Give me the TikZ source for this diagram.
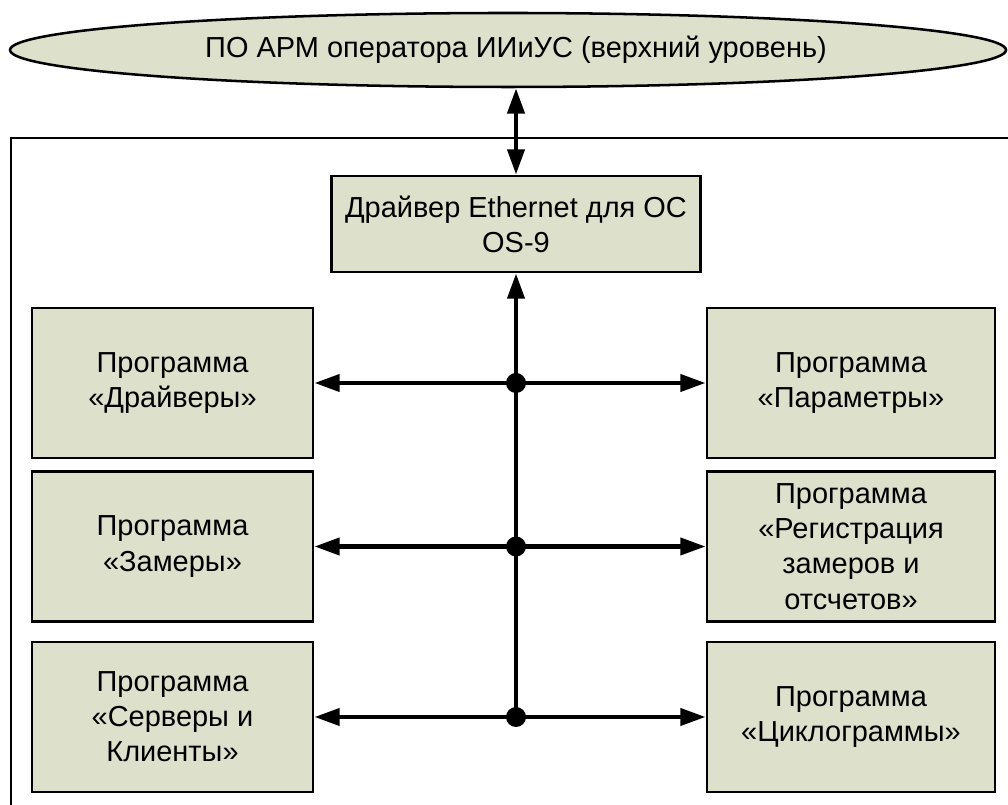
\documentclass[tikz,border=0pt]{standalone}
\usepackage{fontspec}
\setmainfont{Liberation Sans}
\usepackage{tikz}
\usetikzlibrary{positioning}
\usetikzlibrary{shapes,calc,arrows.meta}

\definecolor{boxfill}{RGB}{221,224,203}
\tikzset{
  every node/.style={font=\fontsize{20.6pt}{25pt}\selectfont},
  prog/.style={draw, line width=2pt, fill=boxfill, align=center,
    minimum height=3.75cm, inner sep=2pt},
  link/.style={line width=3.2pt,
    {Triangle[length=18pt,width=12pt]}-{Triangle[length=18pt,width=12pt]}},
  busline/.style={line width=3.2pt, -{Triangle[length=18pt,width=12pt]}},
}

\begin{document}
\begin{tikzpicture}
  \useasboundingbox (0,0) rectangle (25.2,20.125);

  % Top level: operator workstation
  \node[ellipse, draw, line width=1.8pt, fill=boxfill, inner sep=0pt,
    minimum width=24.9cm, minimum height=1.85cm] (apm) at (12.7,18.875)
    {\hspace*{0.4cm}ПО АРМ оператора ИИиУС (верхний уровень)};

  % Outer frame (cut at the right and bottom)
  \draw[line width=1.4pt] (0.275,0) -- (0.275,16.675) -- (25.2,16.675);

  % Ethernet driver
  \node[prog, minimum width=9.225cm, minimum height=2.4cm] (eth) at (12.9,14.525)
    {Драйвер Ethernet для ОС\\OS-9};

  % Programs on the left
  \node[prog, minimum width=7.025cm] (drv) at (4.3125,10.55) {Программа\\«Драйверы»};
  \node[prog, minimum width=7.025cm] (zam) at (4.3125,6.4625) {Программа\\«Замеры»};
  \node[prog, minimum width=7.025cm] (srv) at (4.3125,2.2) {Программа\\«Серверы и\\Клиенты»};

  % Programs on the right
  \node[prog, minimum width=7.2cm] (par) at (21.275,10.55) {Программа\\«Параметры»};
  \node[prog, minimum width=7.2cm] (reg) at (21.275,6.4625)
    {Программа\\«Регистрация\\замеров и\\отсчетов»};
  \node[prog, minimum width=7.2cm] (cyc) at (21.275,2.2) {Программа\\«Циклограммы»};

  % Bus junctions
  \coordinate (j1) at (eth.south |- drv.east);
  \coordinate (j2) at (eth.south |- zam.east);
  \coordinate (j3) at (eth.south |- srv.east);

  % Links
  \draw[link] (apm.south -| eth.north) -- (eth.north);
  \draw[busline] (j3) -- (eth.south);
  \foreach \l/\r/\j in {drv/par/j1, zam/reg/j2, srv/cyc/j3}{
    \draw[link] (\l.east) -- (\r.west);
    \fill (\j) circle (0.25);
  }
\end{tikzpicture}
\end{document}
